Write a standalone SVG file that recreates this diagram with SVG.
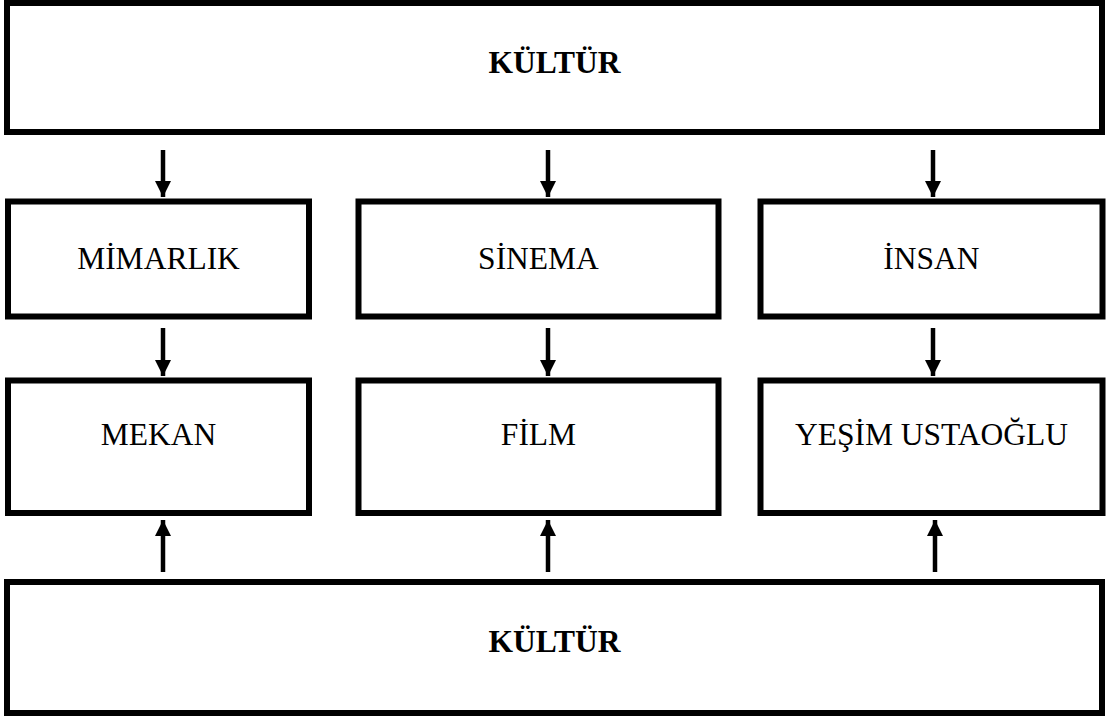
<svg xmlns="http://www.w3.org/2000/svg" width="1106" height="717" viewBox="0 0 1106 717">
  <style>
    .box { fill: #ffffff; stroke: #000000; stroke-width: 6; }
    .lbl { font-family: "Liberation Serif", "Times New Roman", serif; font-size: 31.5px; fill: #000000; text-anchor: middle; }
    .bold { font-weight: bold; }
    .shaft { stroke: #000000; stroke-width: 4.5; fill: none; }
  </style>
  <defs>
    <marker id="head" viewBox="0 0 16 16" refX="16" refY="8" markerWidth="16" markerHeight="16" markerUnits="userSpaceOnUse" orient="auto">
      <path d="M0,0 L16,8 L0,16 Z" fill="#000000"/>
    </marker>
  </defs>
  <rect width="1106" height="717" fill="#ffffff"/>

  <g id="kultur-top">
    <rect class="box" x="7" y="3" width="1095" height="129"/>
    <text class="lbl bold" x="554.5" y="73">KÜLTÜR</text>
  </g>

  <g id="mimarlik">
    <rect class="box" x="8" y="201.5" width="301" height="115"/>
    <text class="lbl" x="158.5" y="269">MİMARLIK</text>
  </g>
  <g id="sinema">
    <rect class="box" x="358.5" y="201.5" width="360" height="115"/>
    <text class="lbl" x="538.5" y="269">SİNEMA</text>
  </g>
  <g id="insan">
    <rect class="box" x="760.5" y="201.5" width="342" height="115"/>
    <text class="lbl" x="931.5" y="269">İNSAN</text>
  </g>

  <g id="mekan">
    <rect class="box" x="8" y="380.5" width="301" height="132.5"/>
    <text class="lbl" x="158.5" y="445">MEKAN</text>
  </g>
  <g id="film">
    <rect class="box" x="358.5" y="380.5" width="360" height="132.5"/>
    <text class="lbl" x="538.5" y="445">FİLM</text>
  </g>
  <g id="yesim-ustaoglu">
    <rect class="box" x="760.5" y="380.5" width="342" height="132.5"/>
    <text class="lbl" x="931.5" y="445">YEŞİM USTAOĞLU</text>
  </g>

  <g id="kultur-bottom">
    <rect class="box" x="7" y="582" width="1095" height="131"/>
    <text class="lbl bold" x="554.5" y="652">KÜLTÜR</text>
  </g>

  <g id="connectors">
    <!-- top band down to first row -->
    <line class="shaft" x1="163" y1="150" x2="163" y2="197" marker-end="url(#head)"/>
    <line class="shaft" x1="548" y1="150" x2="548" y2="197" marker-end="url(#head)"/>
    <line class="shaft" x1="933" y1="150" x2="933" y2="197" marker-end="url(#head)"/>
    <!-- first row down to second row -->
    <line class="shaft" x1="163" y1="328" x2="163" y2="376" marker-end="url(#head)"/>
    <line class="shaft" x1="548" y1="328" x2="548" y2="376" marker-end="url(#head)"/>
    <line class="shaft" x1="933" y1="328" x2="933" y2="376" marker-end="url(#head)"/>
    <!-- bottom band up to second row -->
    <line class="shaft" x1="163" y1="572" x2="163" y2="520" marker-end="url(#head)"/>
    <line class="shaft" x1="548" y1="572" x2="548" y2="520" marker-end="url(#head)"/>
    <line class="shaft" x1="935" y1="572" x2="935" y2="520" marker-end="url(#head)"/>
  </g>
</svg>
